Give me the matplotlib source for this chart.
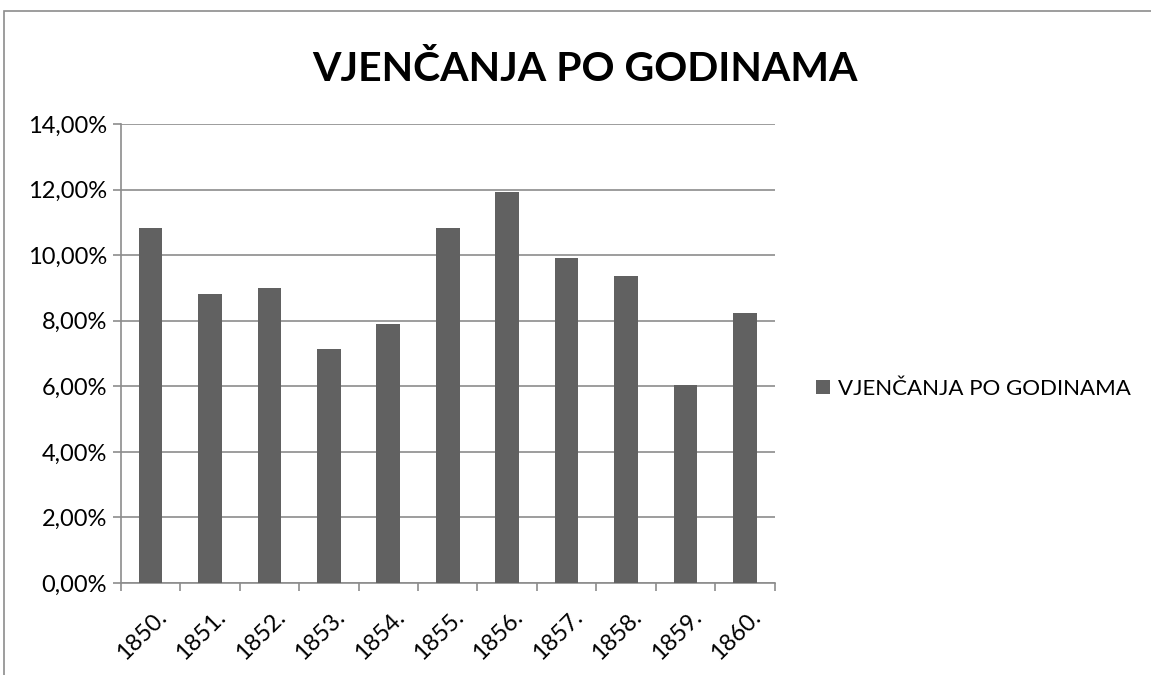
import numpy as np
import matplotlib.pyplot as plt
import matplotlib.transforms as mtransforms
from matplotlib.patches import Rectangle
from matplotlib.ticker import FuncFormatter

# podaci
godine = ['1850.', '1851.', '1852.', '1853.', '1854.', '1855.',
          '1856.', '1857.', '1858.', '1859.', '1860.']
postotci = [10.83, 8.80, 8.99, 7.14, 7.89, 10.83, 11.93, 9.91, 9.35, 6.03, 8.25]
naslov = 'VJENČANJA PO GODINAMA'

plt.rcParams['font.family'] = ['Lato', 'DejaVu Sans']

fig = plt.figure(figsize=(11.51, 6.75), dpi=100)
ax = fig.add_axes([0.105, 0.1363, 0.568, 0.68])

x = np.arange(len(godine))
ax.bar(x, postotci, width=0.4, color='#616161', zorder=3, label=naslov)

ax.set_ylim(0, 14)
ax.set_yticks(np.arange(0, 15, 2))
ax.yaxis.set_major_formatter(FuncFormatter(lambda v, p: f'{v:.2f}%'.replace('.', ',')))
ax.grid(axis='y', color='#8c8c8c', linewidth=1.2, zorder=0)

ax.set_xlim(-0.5, len(godine) - 0.5)
ax.set_xticks(x)
ax.set_xticklabels(godine, rotation=45, ha='right', rotation_mode='anchor')
ax.set_xticks(np.arange(-0.5, len(godine), 1), minor=True)
ax.tick_params(axis='x', which='major', length=0, pad=17, labelsize=17)
ax.tick_params(axis='x', which='minor', length=6, color='#8c8c8c', width=1.2)
ax.tick_params(axis='y', length=6, color='#8c8c8c', width=1.2, labelsize=17, pad=4)

pomak = mtransforms.ScaledTranslation(5 / 100, 0, fig.dpi_scale_trans)
for lbl in ax.get_xticklabels():
    lbl.set_transform(lbl.get_transform() + pomak)

for s in ['top', 'right']:
    ax.spines[s].set_visible(False)
for s in ['left', 'bottom']:
    ax.spines[s].set_color('#8c8c8c')
    ax.spines[s].set_linewidth(1.2)

fig.text(0.508, 0.897, naslov, ha='center', va='center',
         fontsize=29.5, fontweight='bold')

ax.legend(loc='center left', bbox_to_anchor=(1.033, 0.423), frameon=False,
          fontsize=16, handlelength=0.6, handleheight=0.6, handletextpad=0.4)

# okvir grafikona
fig.patches.append(Rectangle((4 / 1151, -0.1), 1.2, 1 - 11 / 675 + 0.1,
                             transform=fig.transFigure, fill=False,
                             edgecolor='#8c8c8c', linewidth=1.2))

plt.savefig('out.png', dpi=100)
